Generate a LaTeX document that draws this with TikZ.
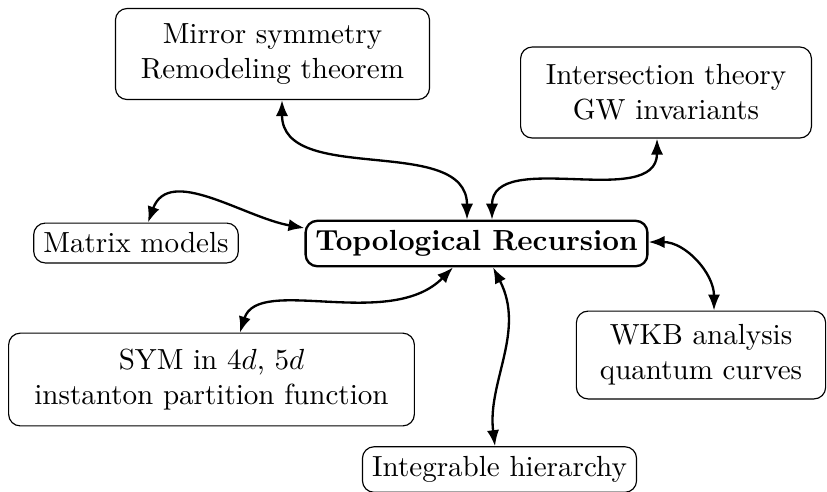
\documentclass[tikz,border=0pt]{standalone}
\usetikzlibrary{arrows.meta,calc}
\tikzset{
  box/.style={draw, rounded corners=4pt, line width=0.4pt, align=center, inner sep=3.33pt},
  bigbox/.style={box, minimum height=31.3pt},
  centerbox/.style={draw, rounded corners=4pt, line width=0.8pt, font=\bfseries, inner sep=3.33pt},
  link/.style={thick, {Latex[length=5.5pt,width=4.2pt]}-{Latex[length=5.5pt,width=4.2pt]}},
}
\begin{document}
\begin{tikzpicture}[x=0.0120919cm, y=-0.0120919cm]
\useasboundingbox (0,0) rectangle (827,491);
\clip (0,0) rectangle (827,491);

\node[centerbox] (topo) at (476.5,243.5) {Topological Recursion};
\node[bigbox, minimum width=108pt] (mirror) at (272.5,54) {Mirror symmetry\\Remodeling theorem};
\node[bigbox, minimum width=100pt] (inter) at (666,92.5) {Intersection theory\\GW invariants};
\node[box] (matrix) at (136,243) {Matrix models};
\node[bigbox, minimum width=139.5pt, minimum height=31.9pt] (sym) at (211.5,379.5) {SYM in $4d$, $5d$\\instanton partition function};
\node[bigbox, minimum width=85.7pt, minimum height=30.2pt] (wkb) at (701,355) {WKB analysis\\quantum curves};
\node[box] (integ) at (499.5,469.5) {Integrable hierarchy};

\draw[link] ($(mirror.south)+(9.5,0)$) to[out=-90,in=90] ($(topo.north)+(-9.5,0)$);
\draw[link] ($(inter.south)+(-9,0)$) to[out=-90,in=90] ($(topo.north)+(15.5,0)$);
\draw[link] ($(matrix.north)+(12,0)$) to[out=70,in=170] ($(topo.west)+(0,-15.5)$);
\draw[link] ($(sym.north)+(28.5,0)$) .. controls +(18,-58) and +(-63,64) .. ($(topo.south)+(-23.5,0)$);
\draw[link] ($(topo.south)+(16.5,0)$) .. controls +(33,64) and +(-8,-64) .. ($(integ.north)+(-4.5,0)$);
\draw[link] ($(topo.east)+(0,-1.5)$) to[out=0,in=90] ($(wkb.north)+(13,0)$);
\end{tikzpicture}
\end{document}
